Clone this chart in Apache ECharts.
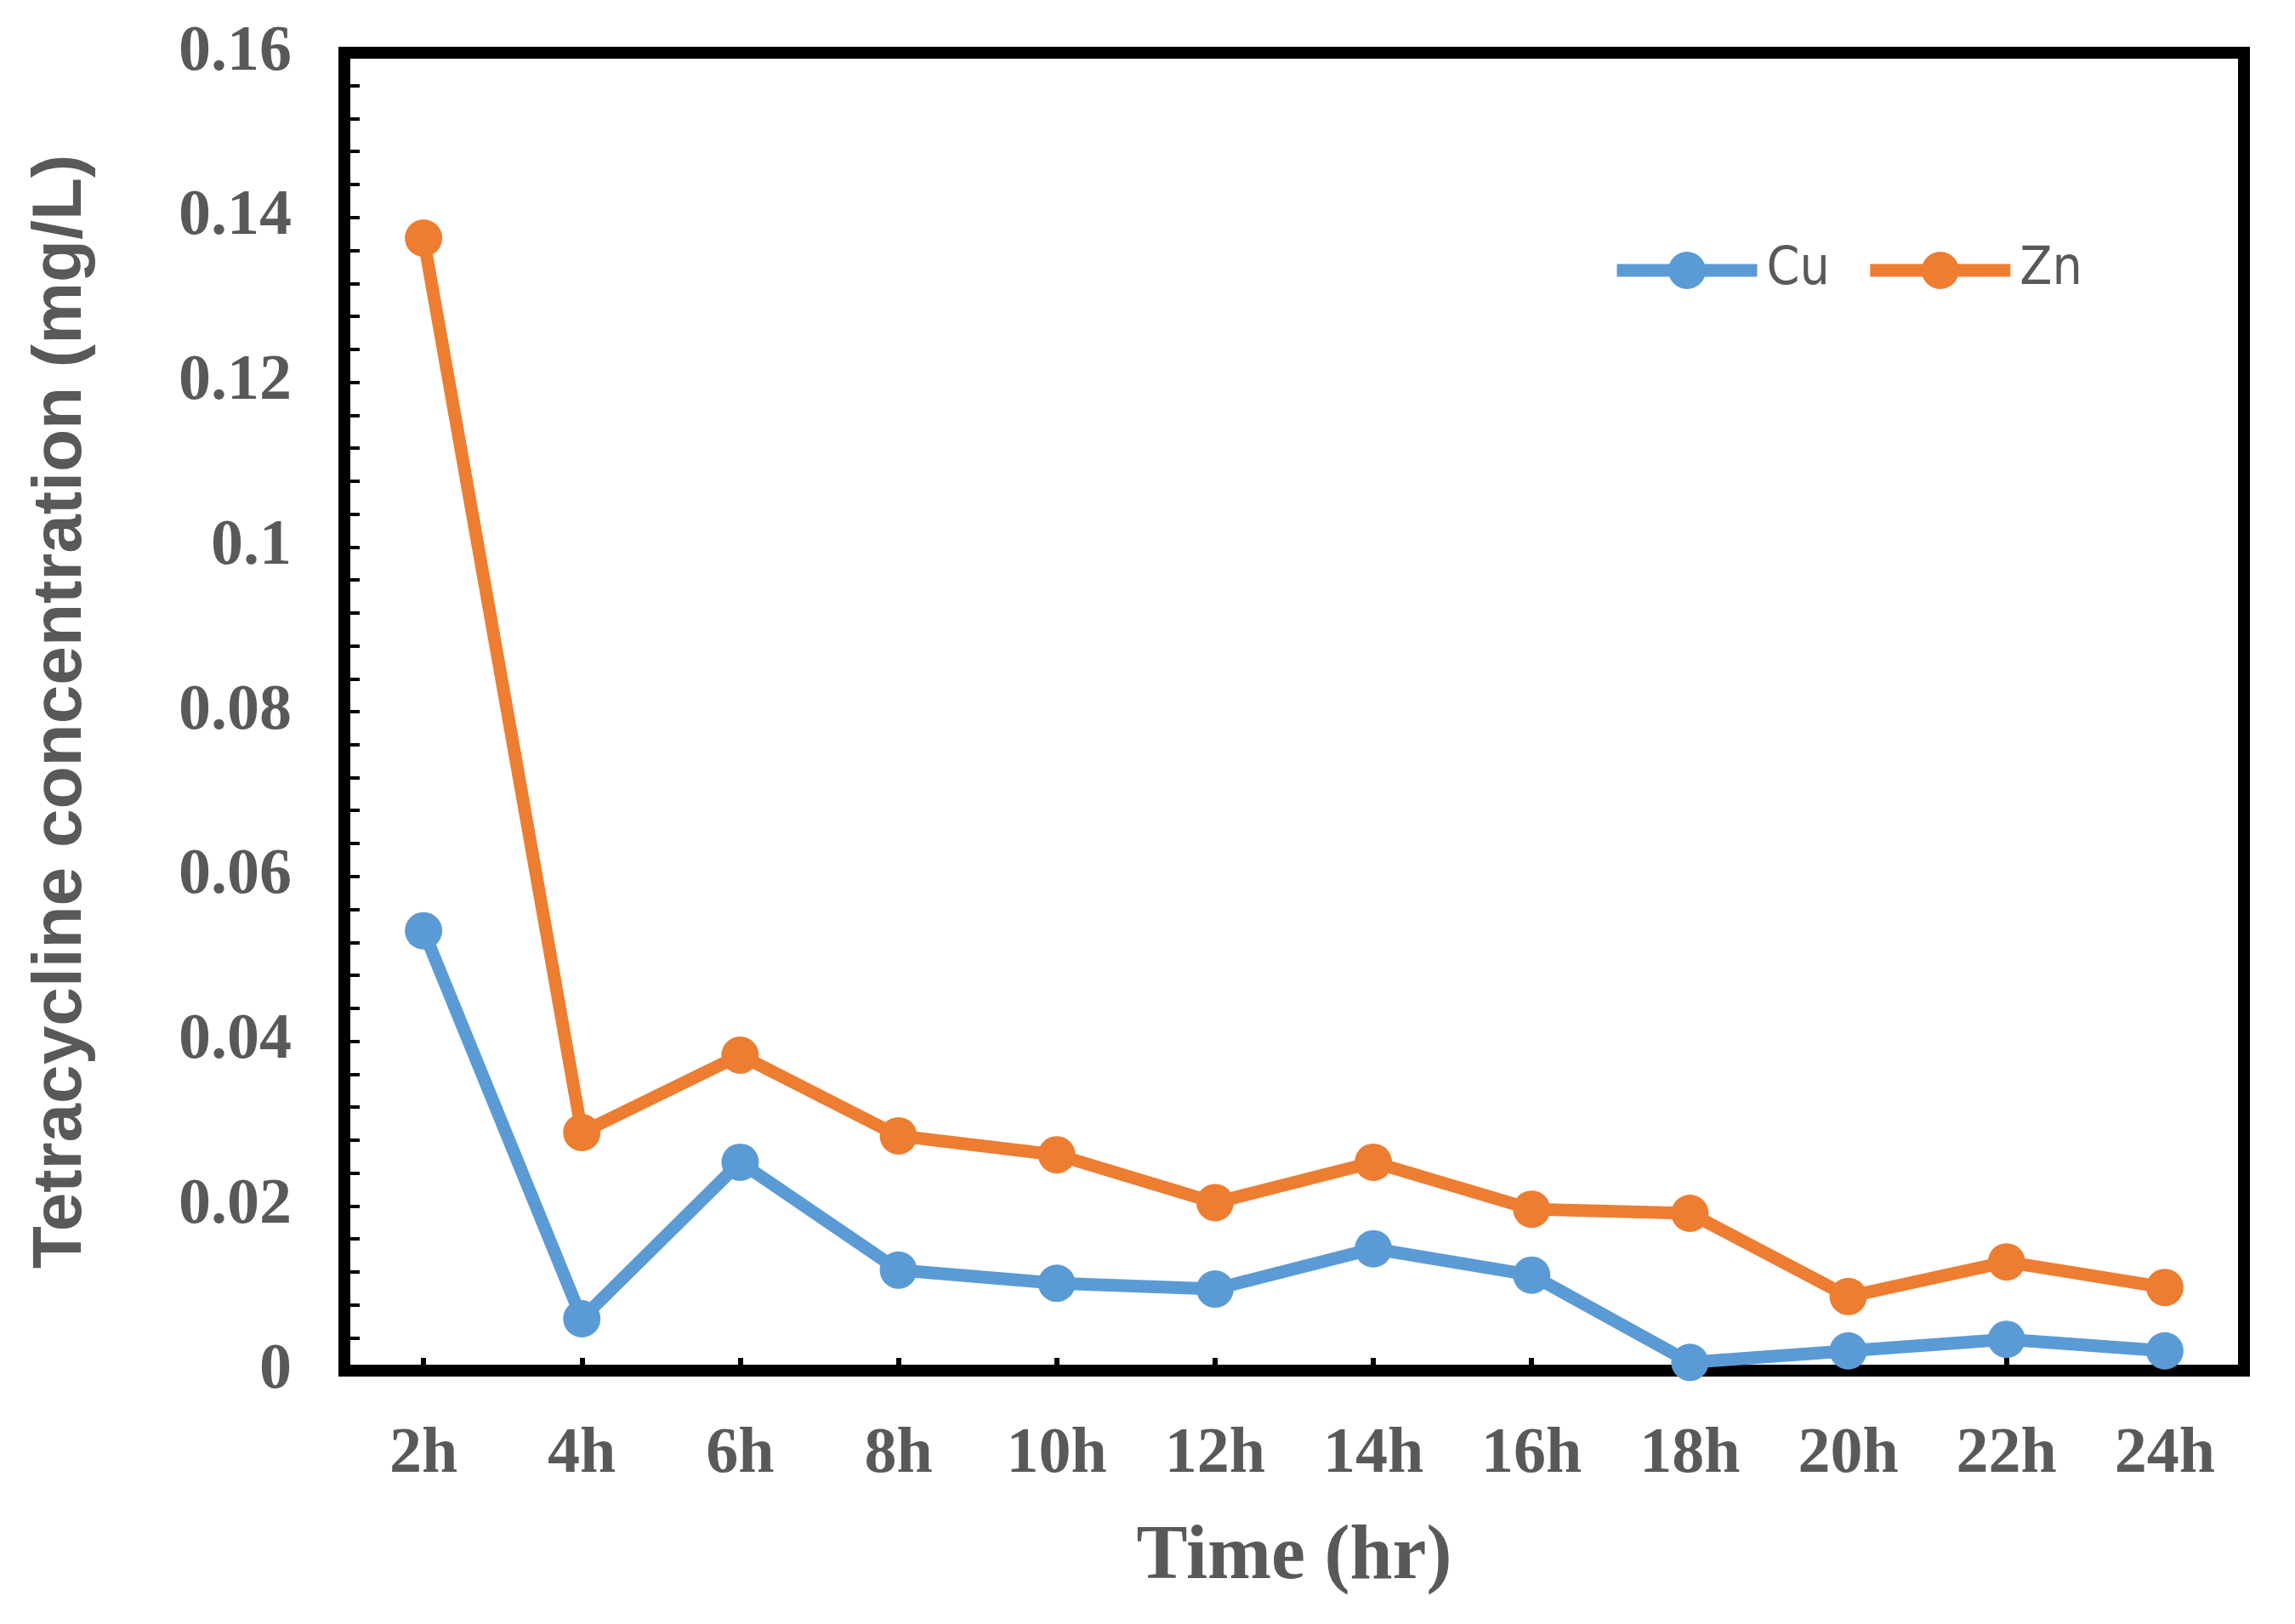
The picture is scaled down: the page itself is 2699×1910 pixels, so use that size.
<!DOCTYPE html>
<html>
<head>
<meta charset="utf-8">
<script src="https://cdn.jsdelivr.net/npm/echarts@6/dist/echarts.min.js"></script>
<style>
html,body{margin:0;padding:0;background:#fff;}
#chart{width:2699px;height:1910px;}
</style>
</head>
<body>
<div id="chart"></div>
<script>
var categories = ['2h','4h','6h','8h','10h','12h','14h','16h','18h','20h','22h','24h'];
var cuValues = [0.0534, 0.0063, 0.0253, 0.0122, 0.0106, 0.0099, 0.0148, 0.0116, 0.0010, 0.0024, 0.0038, 0.0024];
var znValues = [0.1375, 0.0289, 0.0383, 0.0285, 0.0262, 0.0204, 0.0253, 0.0196, 0.0191, 0.0090, 0.0132, 0.0101];
var seriesNames = ['Cu', 'Zn'];
var xTitle = 'Time (hr)';
var yTitle = 'Tetracycline concentration (mg/L)';

var gray = '#595959';
var serif = "'Liberation Serif', 'Times New Roman', serif";
var chart = echarts.init(document.getElementById('chart'), null, {renderer: 'canvas'});
chart.setOption({
  animation: false,
  backgroundColor: '#fff',
  grid: {
    left: 405, right: 60, top: 62, bottom: 298,
    show: true, borderColor: '#000', borderWidth: 14, backgroundColor: 'transparent'
  },
  legend: {
    data: seriesNames,
    left: 1894, top: 287, padding: 0,
    itemWidth: 165, itemHeight: 55, itemGap: 40,
    lineStyle: {width: 15},
    textStyle: {
      color: gray, fontSize: 62,
      fontFamily: "'Liberation Sans Narrow', 'DejaVu Sans Condensed', 'Noto Sans', sans-serif",
      padding: [0, 0, 0, 6]
    }
  },
  xAxis: {
    type: 'category',
    data: categories,
    boundaryGap: true,
    name: xTitle,
    nameLocation: 'middle',
    nameGap: 176,
    nameTextStyle: {color: gray, fontSize: 90, fontWeight: 'bold', fontFamily: serif},
    axisLine: {show: true, lineStyle: {color: '#000', width: 14}},
    axisTick: {show: true, alignWithLabel: true, inside: true, length: 15, lineStyle: {color: '#000', width: 6}},
    axisLabel: {color: gray, fontSize: 76, fontWeight: 'bold', fontFamily: serif, margin: 61},
    splitLine: {show: false}
  },
  yAxis: {
    type: 'value',
    min: 0, max: 0.16, interval: 0.02,
    name: yTitle,
    nameLocation: 'middle',
    nameGap: 292,
    nameTextStyle: {color: gray, fontSize: 82, fontWeight: 'bold', fontFamily: "'Liberation Sans', Arial, sans-serif"},
    axisLine: {show: true, lineStyle: {color: '#000', width: 14}},
    axisTick: {show: true, inside: true, length: 18, lineStyle: {color: '#000', width: 4}},
    minorTick: {show: true, splitNumber: 5, length: 18, lineStyle: {color: '#000', width: 4}},
    axisLabel: {color: gray, fontSize: 76, fontWeight: 'bold', fontFamily: serif, margin: 62},
    splitLine: {show: false}
  },
  series: [
    {
      name: seriesNames[0], type: 'line', data: cuValues,
      symbol: 'circle', symbolSize: 44,
      lineStyle: {color: '#5B9BD5', width: 15},
      itemStyle: {color: '#5B9BD5'},
      clip: false
    },
    {
      name: seriesNames[1], type: 'line', data: znValues,
      symbol: 'circle', symbolSize: 44,
      lineStyle: {color: '#ED7D31', width: 15},
      itemStyle: {color: '#ED7D31'},
      clip: false
    }
  ]
});
</script>
</body>
</html>
